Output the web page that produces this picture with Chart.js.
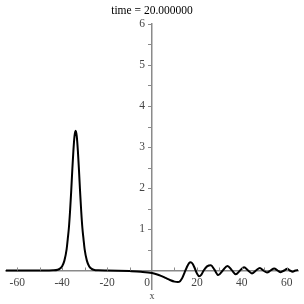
<!DOCTYPE html>
<html>
<head>
<meta charset="utf-8">
<style>
    html, body { margin: 0; padding: 0; background: #fff; }
    #caixa { width: 304px; height: 304px; }
</style>
<script src="https://cdn.jsdelivr.net/npm/chart.js@4.4.1/dist/chart.umd.min.js"></script>
</head>
<body>
<div id="caixa"><canvas id="grafico"></canvas></div>
<script>
const titulo = "time = 20.000000";
const nomeEixoX = "x";

// posições x
const posicoesX = [-65, -55, -46, -44, -42, -41, -40, -39, -38, -37.5, -37, -36.5, -36, -35.5, -35, -34.5,
    -34, -33.5, -33, -32.5, -32, -31.5, -31, -30.5, -30, -29, -28, -27, -26, -24, -20, -15, -10, -5,
    0, 2, 4, 6, 8, 10, 11.5, 12.5, 13.5, 14.5, 15.5, 16.5, 17.2, 18, 19, 20, 21, 22, 23, 24.5,
    26.2, 27.8, 29.5, 31.5, 33.6, 35.5, 37.3, 39.2, 41, 42.8, 44.5, 46.3, 48, 49.6, 51.2, 52.8,
    54.4, 55.9, 57.3, 58.8, 60.2, 61.4, 62.6, 63.8, 65];

// valores u(x) no tempo 20
const valoresU = [0, 0, 0.001, 0.004, 0.02, 0.046, 0.106, 0.24, 0.52, 0.77, 1.04, 1.43, 1.90, 2.43, 2.91, 3.27,
    3.40, 3.27, 2.91, 2.43, 1.90, 1.43, 1.04, 0.77, 0.52, 0.24, 0.106, 0.046, 0.02, 0.004, 0, -0.005, -0.015, -0.03,
    -0.06, -0.09, -0.13, -0.18, -0.23, -0.27, -0.28, -0.26, -0.18, -0.05, 0.08, 0.18, 0.2, 0.17, 0.06, -0.07, -0.14, -0.1, 0, 0.1,
    0.13, 0.02, -0.11, 0, 0.11, 0.01, -0.09, 0, 0.08, 0, -0.07, 0, 0.06, 0, -0.05, 0,
    0.05, 0, -0.04, 0, 0.04, 0, -0.03, 0, 0.01];

const rotulosX = [-60, -40, -20, 0, 20, 40, 60];
const marcasX = [-60, -50, -40, -30, -20, -10, 10, 20, 30, 40, 50, 60];
const rotulosY = [1, 2, 3, 4, 5, 6];
const marcasY = [0.5, 1, 1.5, 2, 2.5, 3, 3.5, 4, 4.5, 5, 5.5, 6];

const fonteSerif = "'Liberation Serif', 'DejaVu Serif', serif";
const corEixo = "#8a8a8a";

const pontos = posicoesX.map((x, i) => ({ x: x, y: valoresU[i] }));

// marcas e rótulos no estilo Maple (eixos cruzando na origem)
const eixosMaple = {
    id: 'eixosMaple',
    afterDraw(chart) {
        const ctx = chart.ctx;
        const sx = chart.scales.x;
        const sy = chart.scales.y;
        const x0 = sx.getPixelForValue(0);
        const y0 = sy.getPixelForValue(0);

        ctx.save();
        ctx.strokeStyle = corEixo;
        ctx.lineWidth = 1;
        ctx.beginPath();
        marcasX.forEach(v => {
            const px = Math.round(sx.getPixelForValue(v)) + 0.5;
            ctx.moveTo(px, y0);
            ctx.lineTo(px, y0 - 3);
        });
        marcasY.forEach(v => {
            const py = Math.round(sy.getPixelForValue(v)) + 0.5;
            ctx.moveTo(x0, py);
            ctx.lineTo(x0 - 4, py);
        });
        ctx.stroke();

        ctx.fillStyle = '#444';
        ctx.font = "11.5px " + fonteSerif;
        ctx.textAlign = 'center';
        ctx.textBaseline = 'middle';
        rotulosX.forEach(v => {
            let px = sx.getPixelForValue(v);
            if (v === 0) px -= 5;
            ctx.fillText(String(v), px, y0 + 12);
        });
        ctx.textAlign = 'right';
        rotulosY.forEach(v => {
            ctx.fillText(String(v), x0 - 7, sy.getPixelForValue(v));
        });

        // nome do eixo x, abaixo dos rótulos
        ctx.textAlign = 'center';
        ctx.font = "10px " + fonteSerif;
        ctx.fillText(nomeEixoX, x0, y0 + 26);
        ctx.restore();
    }
};

new Chart(document.getElementById('grafico'), {
    type: 'line',
    data: {
        datasets: [{
            data: pontos,
            borderColor: '#000',
            borderWidth: 2,
            pointRadius: 0,
            fill: false,
            cubicInterpolationMode: 'monotone'
        }]
    },
    options: {
        responsive: true,
        maintainAspectRatio: false,
        animation: false,
        layout: { padding: { left: 6, right: 6, bottom: 15, top: 0 } },
        plugins: {
            legend: { display: false },
            tooltip: { enabled: false },
            title: {
                display: true,
                text: titulo,
                color: '#000',
                font: { family: fonteSerif, size: 11.5, weight: 'normal' },
                padding: { top: 4, bottom: 6 }
            }
        },
        scales: {
            x: {
                type: 'linear',
                position: { y: 0 },
                min: -65,
                max: 65,
                border: { display: true, color: corEixo, width: 1.5 },
                grid: { display: false },
                ticks: { display: false }
            },
            y: {
                type: 'linear',
                position: { x: 0 },
                min: -0.45,
                max: 6,
                border: { display: true, color: corEixo, width: 1.5 },
                grid: { display: false },
                ticks: { display: false }
            }
        }
    },
    plugins: [eixosMaple]
});
</script>
</body>
</html>
